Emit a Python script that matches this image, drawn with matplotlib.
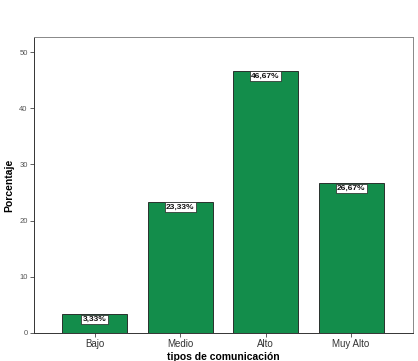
import matplotlib
matplotlib.use("Agg")
import matplotlib.pyplot as plt

plt.rcParams["font.family"] = ["Liberation Sans", "DejaVu Sans"]

categories = ["Bajo", "Medio", "Alto", "Muy Alto"]
values = [3.33, 23.33, 46.67, 26.67]
labels = ["3,33%", "23,33%", "46,67%", "26,67%"]
yticks = [0, 10, 20, 30, 40, 50]

fig = plt.figure(figsize=(4.18, 3.61), dpi=100)
ax = fig.add_axes([0.0813, 0.0776, 0.907, 0.82])
x = list(range(len(categories)))
ax.bar(x, values, width=0.76, color="#138d4b", edgecolor="#1a1a1a", linewidth=0.6, zorder=2)
for xi, v, lab in zip(x, values, labels):
    ax.text(xi, v - 0.3, lab, ha="center", va="top", fontsize=6, fontweight="bold",
            color="#111111",
            bbox=dict(boxstyle="square,pad=0.15", facecolor="white", edgecolor="#222222", linewidth=0.5),
            zorder=3)
ax.set_xlim(-0.708, 3.725)
ax.set_ylim(0, 52.7)
ax.set_xticks(x)
ax.set_xticklabels(categories, fontsize=7, color="#333333")
ax.set_yticks(yticks)
ax.set_yticklabels([str(t) for t in yticks], fontsize=5.5, color="#555555")
ax.tick_params(axis="both", length=3, width=0.6, color="#444444", pad=1.5)
for s in ax.spines.values():
    s.set_color("#888888")
    s.set_linewidth(0.7)
ax.spines["left"].set_color("#333333")
ax.spines["bottom"].set_color("#333333")
ax.set_ylabel("Porcentaje", fontsize=7.5, fontweight="bold", labelpad=4)
ax.set_xlabel("tipos de comunicación", fontsize=7.5, fontweight="bold", labelpad=2)
fig.savefig("out.png", dpi=100)
